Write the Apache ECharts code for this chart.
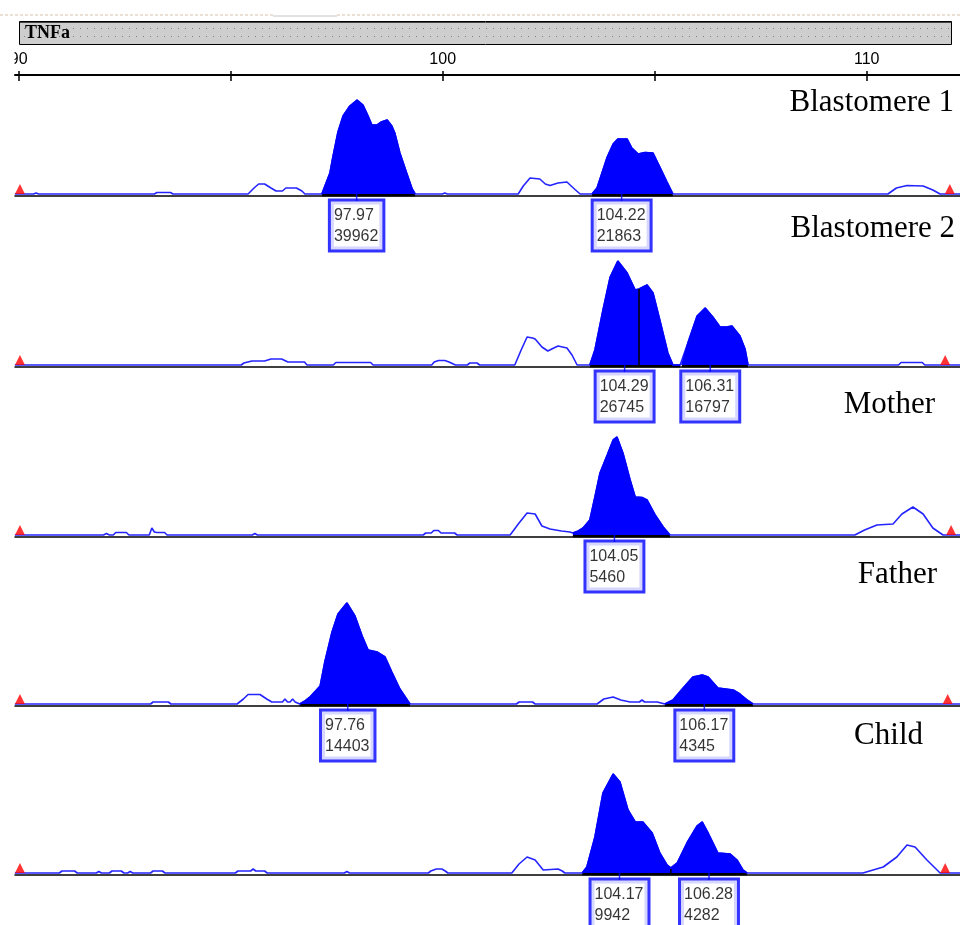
<!DOCTYPE html>
<html>
<head>
<meta charset="utf-8">
<script src="https://cdn.jsdelivr.net/npm/echarts@6/dist/echarts.min.js"></script>
<style>
    html, body { margin: 0; padding: 0; background: #fff; }
    #chart { width: 960px; height: 925px; }
</style>
</head>
<body>
<div id="chart"></div>
<script>
// locus + ruler
const locusName = 'TNFa'
const rulerTicks = [90, 95, 100, 105, 110]
const rulerLabels = [90, 100, 110]

const sampleNames = ['Blastomere 1', 'Blastomere 2', 'Mother', 'Father', 'Child']

// traces: [size (bp), relative intensity]
const blastomere1Trace = [
    [89.91, 0], [90.35, 0], [90.41, 1], [90.47, 0],
    [93.20, 0], [93.26, 1.5], [93.58, 1.5], [93.64, 0],
    [95.41, 0], [95.55, 6], [95.66, 10], [95.80, 10], [95.95, 6], [96.07, 3], [96.22, 3], [96.30, 6], [96.55, 6], [96.68, 3], [96.75, 0],
    [97.15, 0], [97.24, 10], [97.34, 21], [97.41, 37], [97.53, 62], [97.65, 78], [97.81, 88], [97.98, 94], [98.12, 89], [98.24, 78],
    [98.33, 69], [98.45, 69], [98.55, 72], [98.69, 74], [98.80, 68], [98.87, 61], [98.99, 41], [99.15, 21], [99.28, 5], [99.35, 0],
    [99.99, 0], [100.05, 1], [100.11, 0],
    [101.78, 0], [101.90, 8], [102.06, 16], [102.29, 15], [102.42, 10], [102.53, 8.5], [102.72, 11], [102.93, 12], [103.12, 4.5], [103.24, 0],
    [103.52, 0], [103.64, 6], [103.88, 37], [104.02, 50], [104.13, 55], [104.35, 55], [104.46, 46], [104.61, 40], [104.77, 41.5],
    [104.96, 41], [105.12, 27], [105.29, 12], [105.43, 0],
    [110.50, 0], [110.70, 6], [110.95, 8.5], [111.33, 8], [111.56, 4], [111.73, 0], [112.2, 0]
]
const blastomere2Trace = [
    [89.91, 0], [95.25, 0], [95.31, 2], [95.50, 4], [95.80, 4], [95.95, 6], [96.20, 6], [96.35, 3], [96.74, 3], [96.80, 0],
    [97.42, 0], [97.48, 2.5], [98.30, 2.5], [98.36, 0],
    [99.74, 0], [99.80, 3], [99.90, 4.5], [100.05, 4.5], [100.15, 3], [100.30, 0],
    [100.58, 0], [100.64, 2], [100.81, 2], [100.87, 0],
    [101.70, 0], [101.85, 15], [101.99, 28], [102.12, 27], [102.18, 26], [102.34, 18], [102.48, 14], [102.62, 17], [102.72, 19],
    [102.93, 17], [103.05, 10], [103.17, 0],
    [103.47, 0], [103.59, 15], [103.78, 55], [103.95, 88], [104.13, 104], [104.35, 92], [104.54, 75], [104.63, 76], [104.82, 80],
    [104.96, 72], [105.12, 45], [105.31, 12], [105.43, 0], [105.60, 0],
    [105.64, 0], [105.79, 23], [106.00, 49], [106.19, 57], [106.37, 48], [106.54, 38], [106.70, 38], [106.82, 39], [107.01, 29],
    [107.13, 16], [107.20, 0],
    [110.75, 0], [110.81, 2.5], [111.31, 2.5], [111.37, 0], [112.2, 0]
]
const motherTrace = [
    [89.91, 0], [92.00, 0], [92.07, 1.5], [92.14, 0], [92.23, 0], [92.29, 2.5], [92.54, 2.5], [92.60, 0],
    [93.08, 0], [93.14, 7], [93.20, 3], [93.26, 2.5], [93.44, 2.5], [93.50, 0],
    [95.51, 0], [95.57, 1.5], [95.63, 0],
    [99.54, 0], [99.60, 2], [99.73, 2], [99.79, 4.5], [99.90, 4.5], [99.96, 2], [100.28, 2], [100.34, 0],
    [101.59, 0], [101.80, 12], [101.99, 22], [102.18, 21], [102.34, 9], [102.53, 6], [102.80, 4], [103.00, 3], [103.07, 2],
    [103.20, 4], [103.31, 7], [103.47, 15], [103.59, 38], [103.71, 62], [103.88, 80], [104.02, 95], [104.11, 98], [104.25, 82],
    [104.42, 55], [104.54, 38], [104.70, 37.5], [104.82, 35], [105.01, 20], [105.20, 8], [105.36, 0],
    [109.72, 0], [109.95, 5], [110.24, 10], [110.62, 11], [110.83, 21], [111.09, 28], [111.33, 21], [111.56, 7], [111.80, 0], [112.2, 0]
]
const fatherTrace = [
    [89.91, 0], [93.11, 0], [93.17, 2], [93.53, 2], [93.59, 0],
    [95.15, 0], [95.30, 5], [95.41, 9.5], [95.69, 9.5], [95.85, 5], [95.97, 2], [96.22, 2], [96.28, 5], [96.34, 2],
    [96.40, 2], [96.46, 5], [96.52, 2], [96.63, 0],
    [96.75, 3], [96.87, 7], [97.11, 18], [97.22, 42], [97.39, 72], [97.53, 90], [97.74, 101], [97.93, 88], [98.10, 68], [98.24, 54],
    [98.45, 52], [98.64, 47], [98.80, 32], [98.99, 15], [99.18, 3], [99.23, 0],
    [101.74, 0], [101.80, 2], [102.12, 2], [102.18, 0],
    [103.64, 0], [103.80, 5], [104.02, 7], [104.20, 4], [104.42, 2], [104.64, 2], [104.70, 4], [104.76, 2], [105.06, 2], [105.24, 0],
    [105.43, 4], [105.67, 16], [105.90, 27], [106.12, 29], [106.26, 27], [106.49, 16], [106.85, 14], [107.01, 10], [107.18, 4], [107.32, 0],
    [112.2, 0]
]
const childTrace = [
    [89.91, 0], [90.96, 0], [91.02, 2], [91.32, 2], [91.38, 0], [91.83, 0], [91.89, 1.5], [91.95, 0],
    [92.14, 0], [92.20, 2], [92.42, 2], [92.48, 0], [92.57, 0], [92.63, 1.5], [92.69, 0],
    [93.11, 0], [93.17, 2], [93.39, 2], [93.45, 0],
    [95.11, 0], [95.17, 2], [95.47, 2], [95.53, 4], [95.59, 2], [95.80, 2], [95.86, 0],
    [97.68, 0], [97.74, 1.5], [97.80, 0],
    [99.66, 0], [99.72, 2], [99.85, 4], [99.98, 4], [100.06, 2], [100.12, 0],
    [101.63, 0], [101.80, 9], [101.99, 16], [102.18, 13], [102.37, 3], [102.72, 4], [102.82, 2], [102.88, 0],
    [103.29, 0], [103.40, 6], [103.59, 36], [103.78, 80], [104.02, 99], [104.18, 91], [104.37, 63], [104.54, 51], [104.72, 51],
    [104.94, 40], [105.12, 20], [105.29, 8], [105.38, 5],
    [105.53, 10], [105.76, 30], [106.00, 47], [106.12, 51], [106.26, 40], [106.49, 20], [106.78, 19], [106.94, 13], [107.08, 3], [107.18, 0],
    [109.91, 0], [110.39, 6], [110.71, 16], [110.95, 28], [111.14, 26], [111.42, 13], [111.66, 3], [111.73, 0], [112.2, 0]
]
const traces = [blastomere1Trace, blastomere2Trace, motherTrace, fatherTrace, childTrace]

// called (filled) peak bins, bp ranges
const calledBins = [
    [[97.15, 99.35], [103.52, 105.43]],
    [[103.47, 105.60], [105.64, 107.20]],
    [[103.07, 105.36]],
    [[96.63, 99.23], [105.24, 107.32]],
    [[103.29, 105.38], [105.38, 107.18]]
]
// separator lines drawn inside peaks: [size, height]
const binMarks = [[], [[104.63, 76]], [], [], [[105.38, 4]]]

// peak labels
const peakSizes = [[97.97, 104.22], [104.29, 106.31], [104.05], [97.76, 106.17], [104.17, 106.28]]
const peakHeights = [[39962, 21863], [26745, 16797], [5460], [14403, 4345], [9942, 4282]]

// size standard markers (red)
const ladderPeaks = [[90.03, 111.96], [90.03, 111.85], [90.03, 111.99], [90.03, 111.91], [90.03, 111.85]]

// ---- layout ----
const X_MIN = 89.913, X_MAX = 112.2
const baselines = [194, 365, 535, 704, 873]
const nameRight = [954, 955, 935, 937, 923]
const nameMid = [103, 229, 405, 575, 736]
const BLUE = '#0000ff'

// dotted grey pattern for locus header
const pat = document.createElement('canvas')
pat.width = 7
pat.height = 8
const pctx = pat.getContext('2d')
pctx.fillStyle = '#cecece'
pctx.fillRect(0, 0, 7, 8)
pctx.fillStyle = '#808080'
pctx.fillRect(3, 4, 1, 1)

const grids = [], xAxes = [], yAxes = [], series = []

traces.forEach((trace, i) => {
    grids.push({left: 15, right: 0, top: baselines[i] - 110, height: 111.5})
    xAxes.push({
        gridIndex: i, type: 'value', min: X_MIN, max: X_MAX,
        axisLine: {show: true, onZero: false, lineStyle: {color: '#000', width: 1.5}},
        axisTick: {show: false}, axisLabel: {show: false}, splitLine: {show: false}
    })
    yAxes.push({gridIndex: i, type: 'value', min: -1.5, max: 110, show: false})

    // full trace
    series.push({
        type: 'line', xAxisIndex: i, yAxisIndex: i, data: trace,
        symbol: 'none', z: 3,
        lineStyle: {color: '#2424ff', width: 1.6}
    })
    // filled called peaks
    calledBins[i].forEach(([a, b]) => {
        series.push({
            type: 'line', xAxisIndex: i, yAxisIndex: i,
            data: trace.filter(p => p[0] >= a && p[0] <= b),
            symbol: 'none', z: 4,
            lineStyle: {color: BLUE, width: 1.5},
            areaStyle: {color: BLUE, opacity: 1}
        })
        // thick black bar under the bin
        series.push({
            type: 'line', xAxisIndex: i, yAxisIndex: i,
            data: [[a, -1.2], [b, -1.2]],
            symbol: 'none', z: 2,
            lineStyle: {color: '#000', width: 2.5}
        })
    })
    binMarks[i].forEach(([s, h]) => {
        series.push({
            type: 'line', xAxisIndex: i, yAxisIndex: i,
            data: [[s, -1], [s, h]],
            symbol: 'none', z: 5,
            lineStyle: {color: '#000', width: 1.5}
        })
    })
    // size standard
    series.push({
        type: 'scatter', xAxisIndex: i, yAxisIndex: i,
        data: ladderPeaks[i].map(s => [s, 0]),
        symbol: 'triangle', symbolSize: [10, 10], symbolOffset: [0, -5],
        itemStyle: {color: '#ff0000'}, z: 6
    })
    // peak labels
    series.push({
        type: 'scatter', xAxisIndex: i, yAxisIndex: i,
        data: peakSizes[i].map((s, k) => [s, 0, peakHeights[i][k]]),
        symbol: 'rect', symbolSize: [1.5, 7], symbolOffset: [0, 3.5],
        itemStyle: {color: BLUE}, z: 7,
        label: {
            show: true, position: 'bottom', distance: 0.5,
            formatter: p => `{r|${p.value[0].toFixed(2)}}\n{r|${p.value[2]}}`,
            backgroundColor: '#fff', borderColor: BLUE, borderWidth: 3,
            padding: [4, 4, 2, 3],
            rich: {
                r: {align: 'left', fontSize: 16, lineHeight: 21, color: '#000', fontFamily: 'Liberation Sans'}
            }
        }
    })
})

// ruler at top
const R = traces.length
grids.push({left: 15, right: 0, top: 75, height: 1})
xAxes.push({
    gridIndex: R, type: 'value', position: 'top', min: X_MIN, max: X_MAX,
    axisLine: {show: true, onZero: false, lineStyle: {color: '#000', width: 2}},
    axisTick: {show: true, length: 4, customValues: rulerTicks, lineStyle: {color: '#000', width: 1.5}},
    axisLabel: {show: true, customValues: rulerLabels, margin: 7, fontSize: 16, color: '#000', fontFamily: 'Liberation Sans'},
    splitLine: {show: false}
})
xAxes.push({
    gridIndex: R, type: 'value', position: 'bottom', min: X_MIN, max: X_MAX,
    axisLine: {show: false, onZero: false},
    axisTick: {show: true, length: 5, customValues: rulerTicks, lineStyle: {color: '#000', width: 1.5}},
    axisLabel: {show: false}, splitLine: {show: false}
})
yAxes.push({gridIndex: R, type: 'value', show: false})

const graphics = [
    // faint top border
    {type: 'line', shape: {x1: 0, y1: 15, x2: 273, y2: 15}, style: {stroke: '#e4d6c6', lineWidth: 1.5, lineDash: [3, 2]}},
    {type: 'line', shape: {x1: 273, y1: 16, x2: 337, y2: 16}, style: {stroke: '#c4c4c4', lineWidth: 1}},
    {type: 'line', shape: {x1: 337, y1: 15, x2: 960, y2: 15}, style: {stroke: '#e4d6c6', lineWidth: 1.5, lineDash: [3, 2]}},
    // locus header
    {type: 'rect', shape: {x: 19.5, y: 21.5, width: 932, height: 23}, style: {fill: {image: pat, repeat: 'repeat'}, stroke: '#000', lineWidth: 1}},
    {type: 'line', shape: {x1: 20, y1: 22.5, x2: 951, y2: 22.5}, style: {stroke: '#444', lineWidth: 1}},
    {type: 'text', x: 25, y: 33, style: {text: locusName, font: 'bold 18px "Liberation Serif"', fill: '#000', verticalAlign: 'middle', textVerticalAlign: 'middle'}},
    // left edge mask (clips the "90" label like the original)
    {type: 'rect', shape: {x: 0, y: 46, width: 14.5, height: 22}, style: {fill: '#fff'}, z: 100}
]
sampleNames.forEach((name, i) => {
    graphics.push({
        type: 'text', x: nameRight[i], y: nameMid[i],
        style: {
            text: name, font: '31px "Liberation Serif"', fill: '#000',
            align: 'right', textAlign: 'right', verticalAlign: 'middle', textVerticalAlign: 'middle'
        }
    })
})

const myChart = echarts.init(document.getElementById('chart'))
myChart.setOption({
    animation: false,
    backgroundColor: '#fff',
    grid: grids,
    xAxis: xAxes,
    yAxis: yAxes,
    series: series,
    graphic: graphics
})
window.addEventListener('resize', myChart.resize)
</script>
</body>
</html>
